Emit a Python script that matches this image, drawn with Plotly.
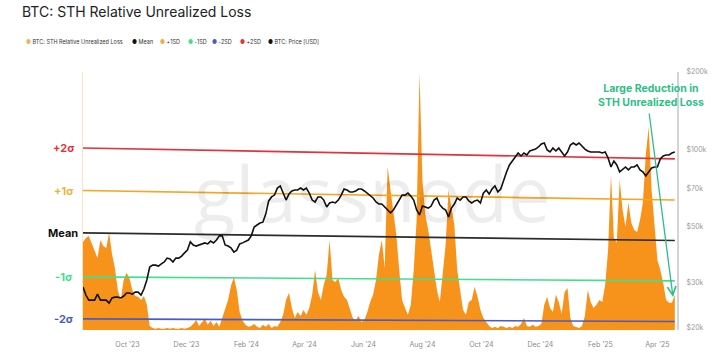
import math
import pandas as pd
import plotly.graph_objects as go

# ---------------- data ----------------
start_date = "2023-08-28"
step = "3D"

sth_loss = [  # STH relative unrealized loss, %
    3.08, 3.22, 3.29, 3.01, 2.73, 2.52, 3.15, 2.94, 2.87, 3.40,
    2.66, 2.17, 1.40, 1.05, 1.75, 2.00, 1.82, 1.40, 1.19, 1.16,
    1.05, 1.19, 0.88, 0.14, 0.07, 0.04, 0.07, 0.04, 0.04, 0.07,
    0.04, 0.07, 0.04, 0.04, 0.07, 0.04, 0.07, 0.11, 0.21, 0.35,
    0.14, 0.28, 0.39, 0.18, 0.32, 0.14, 0.28, 0.11, 0.42, 0.77,
    1.05, 1.54, 1.86, 1.40, 0.63, 0.32, 0.18, 0.11, 0.14, 0.21,
    0.11, 0.07, 0.18, 0.11, 0.21, 0.07, 0.14, 0.11, 0.28, 0.53,
    1.05, 1.30, 0.77, 0.42, 0.63, 0.49, 0.70, 0.53, 0.77, 1.23,
    2.10, 1.33, 1.05, 1.58, 1.93, 3.15, 1.75, 1.68, 1.82, 1.40,
    1.16, 1.05, 0.70, 0.42, 0.35, 0.49, 0.28, 0.35, 0.63, 0.98,
    1.23, 1.75, 2.63, 3.15, 2.17, 5.71, 4.90, 4.20, 3.33, 2.10,
    1.05, 0.77, 0.53, 0.88, 2.10, 3.85, 9.00, 5.25, 4.03, 3.50,
    2.80, 2.10, 1.40, 0.98, 2.10, 2.98, 4.90, 4.20, 3.68, 2.10,
    1.40, 0.70, 0.53, 0.98, 1.05, 1.51, 1.16, 0.70, 0.42, 0.28,
    0.14, 0.07, 0.11, 0.07, 0.14, 0.11, 0.07, 0.11, 0.07, 0.14,
    0.11, 0.21, 0.42, 0.14, 0.11, 0.18, 0.11, 0.14, 0.21, 0.88,
    1.16, 0.77, 0.63, 1.23, 0.98, 0.56, 1.33, 1.47, 0.42, 0.14,
    0.11, 0.07, 0.14, 0.49, 1.40, 0.98, 0.77, 0.88, 1.05, 0.98,
    1.58, 2.80, 5.43, 3.22, 3.05, 5.25, 4.20, 3.61, 4.45, 3.75,
    3.50, 3.43, 3.85, 4.45, 6.13, 7.11, 4.90, 3.50, 2.45, 2.10,
    1.65, 1.05, 0.95, 0.95, 1.23,
]

btc_price = [
    28900, 26900, 25700, 25700, 25700, 27100, 25700, 25700, 25700, 25000,
    26200, 26400, 26400, 26200, 26600, 27400, 27400, 27100, 27600, 27600,
    26900, 28400, 30800, 34600, 35200, 35200, 34900, 35600, 36200, 37500,
    37200, 36200, 37500, 37500, 38200, 39300, 40300, 43400, 42200, 41800,
    42200, 42600, 43000, 42600, 43700, 43000, 44100, 45800, 45800, 42200,
    41800, 41100, 39600, 40300, 42600, 43000, 43400, 44100, 45800, 49600,
    50500, 51400, 51800, 55700, 62700, 65000, 66100, 70400, 71800, 67300,
    63200, 66700, 68600, 69200, 69200, 70400, 69200, 70400, 67300, 63200,
    62100, 65000, 65000, 63200, 59400, 61600, 62100, 61600, 63200, 66100,
    69800, 69200, 68000, 68000, 68600, 69800, 69800, 68600, 67300, 66100,
    64400, 62100, 61000, 61000, 59400, 57300, 56300, 57800, 60500, 63800,
    66100, 66100, 67300, 65500, 63200, 57800, 55300, 59900, 59400, 58800,
    59900, 63200, 64400, 60500, 58800, 57800, 54300, 58800, 61000, 64400,
    63200, 65000, 65000, 62700, 61600, 62700, 63200, 61600, 67300, 69200,
    66700, 69800, 71800, 68000, 69800, 75700, 81400, 86700, 89800, 94000,
    96500, 94000, 96500, 94800, 98300, 99200, 100000, 101900, 104700, 105600,
    99200, 97400, 100900, 98300, 100900, 97400, 94000, 97400, 103700, 105600,
    103700, 105600, 102800, 100000, 98300, 97400, 97400, 97400, 97400, 96500,
    97400, 92300, 85100, 89800, 86700, 81400, 82900, 85100, 82900, 85100,
    85100, 86700, 82900, 81400, 78500, 81400, 84300, 85100, 85100, 91500,
    94000, 94800, 94800, 96500, 97400,
]

# band levels at first and last date (%)
band_mean = [3.40, 3.13]
band_plus1 = [4.88, 4.55]
band_plus2 = [6.37, 5.99]
band_minus1 = [1.86, 1.72]
band_minus2 = [0.39, 0.30]

x_tick_labels = ["Oct '23", "Dec '23", "Feb '24", "Apr '24", "Jun '24",
                 "Aug '24", "Oct '24", "Dec '24", "Feb '25", "Apr '25"]
price_ticks = [20000, 30000, 50000, 70000, 100000, 200000]
price_tick_labels = ["$20k", "$30k", "$50k", "$70k", "$100k", "$200k"]

# ---------------- styling ----------------
C_AREA = "#f7931a"
C_MEAN = "#2b2b2b"
C_P1 = "#f5a623"
C_P2 = "#e2323c"
C_M1 = "#3fe08e"
C_M2 = "#4a5cc4"
C_PRICE = "#111111"
C_NOTE = "#2dbf86"

dates = pd.date_range(start_date, periods=len(sth_loss), freq=step)
band_dates = [dates[0], dates[-1]]

fig = go.Figure()
fig.add_trace(go.Scatter(x=dates, y=sth_loss, mode="lines", fill="tozeroy",
                         line=dict(width=0, color=C_AREA), fillcolor=C_AREA,
                         name="BTC: STH Relative Unrealized Loss", showlegend=False))
for vals, col in [(band_mean, C_MEAN), (band_plus1, C_P1), (band_minus1, C_M1),
                  (band_minus2, C_M2), (band_plus2, C_P2)]:
    fig.add_trace(go.Scatter(x=band_dates, y=vals, mode="lines",
                             line=dict(width=1.6, color=col), showlegend=False))
fig.add_trace(go.Scatter(x=dates, y=btc_price, mode="lines", yaxis="y2",
                         line=dict(width=1.6, color=C_PRICE), showlegend=False))

W, H = 724, 358
L, T = 83, 72
pw, ph = 594, 258
R, B = W - L - pw, H - T - ph


def px_x(p):  # page pixel -> paper x
    return (p - L) / pw


def px_y(p):  # page pixel -> paper y
    return (T + ph - p) / ph


x_end = dates[0] + pd.Timedelta(days=pw / 0.967)
tickvals = pd.date_range("2023-10-01", periods=len(x_tick_labels), freq="2MS") + pd.Timedelta(days=12)

annotations = []
# watermark
annotations.append(dict(text="glassnode", x=px_x(372), y=px_y(192), xref="paper", yref="paper",
                        showarrow=False, font=dict(size=76, color="rgba(0,0,0,0.07)",
                                                   family="Open Sans, Arial"),
                        xanchor="center", yanchor="middle"))
# sigma labels
for txt, vals, col in [("+2σ", band_plus2, C_P2), ("+1σ", band_plus1, "#f2b035"),
                       ("Mean", band_mean, "#111111"), ("-1σ", band_minus1, C_M1),
                       ("-2σ", band_minus2, C_M2)]:
    annotations.append(dict(text="<b>" + txt + "</b>", x=px_x(63), xref="paper", y=vals[0], yref="y",
                            showarrow=False, xanchor="center", yanchor="middle",
                            font=dict(size=11, color=col, family="Inter, Arial")))
# legend
legend_items = [("BTC: STH Relative Unrealized Loss", "#f3b063", 24),
                ("Mean", "#111111", 130), ("+1SD", "#f2b035", 158), ("-1SD", C_M1, 186),
                ("-2SD", C_M2, 210), ("+2SD", C_P2, 238), ("BTC: Price [USD]", "#111111", 266)]
for txt, col, p in legend_items:
    annotations.append(dict(text=f"<span style='color:{col}'>●</span> {txt}", x=px_x(p), y=px_y(41.5),
                            xref="paper", yref="paper", showarrow=False, xanchor="left",
                            yanchor="middle", font=dict(size=5.5, color="#333", family="Inter, Arial")))
# note
annotations.append(dict(text="<b>Large Reduction in<br>STH Unrealized Loss</b>", x=px_x(651), y=px_y(95),
                        xref="paper", yref="paper", showarrow=False, xanchor="center", yanchor="middle",
                        font=dict(size=10.5, color=C_NOTE, family="Inter, Arial")))
annotations.append(dict(text="", x=px_x(673), y=px_y(297), xref="paper", yref="paper",
                        showarrow=True, ax=-24, ay=-185, arrowhead=5, arrowsize=1.3,
                        arrowwidth=1.3, arrowcolor=C_NOTE, standoff=0))

fig.update_layout(
    width=W, height=H,
    margin=dict(l=L, r=R, t=T, b=B, autoexpand=False),
    paper_bgcolor="white", plot_bgcolor="white",
    showlegend=False,
    title=dict(text="BTC: STH Relative Unrealized Loss", x=22 / W, xref="container",
               xanchor="left", y=1 - 12 / H, yref="container", yanchor="middle",
               font=dict(size=14, color="#222", family="Inter, Arial")),
    xaxis=dict(range=[dates[0], x_end], tickvals=tickvals, ticktext=x_tick_labels,
               showgrid=False, zeroline=False, showline=False, ticks="",
               ticklabelstandoff=9, automargin=False,
               tickfont=dict(size=7, color="#8a8a8a", family="Inter, Arial")),
    yaxis=dict(range=[0, ph * 0.035], showticklabels=False, showgrid=False, zeroline=False,
               showline=True, linecolor="#fde3c3", linewidth=1, ticks="", automargin=False),
    yaxis2=dict(type="log", overlaying="y", side="right",
                range=[math.log10(19640), math.log10(200000)],
                tickvals=price_ticks, ticktext=price_tick_labels, showgrid=False, zeroline=False,
                showline=True, linecolor="#d4d4d4", linewidth=2, ticks="",
                ticklabelstandoff=6, automargin=False,
                tickfont=dict(size=7, color="#9a9a9a", family="Inter, Arial")),
    annotations=annotations,
)

fig.write_html(
    "out.html",
    config={"displayModeBar": False},
    post_script=(
        "document.body.style.margin='0';"
        "document.body.style.overflow='hidden';"
        "document.documentElement.style.overflow='hidden';"
    ),
)
